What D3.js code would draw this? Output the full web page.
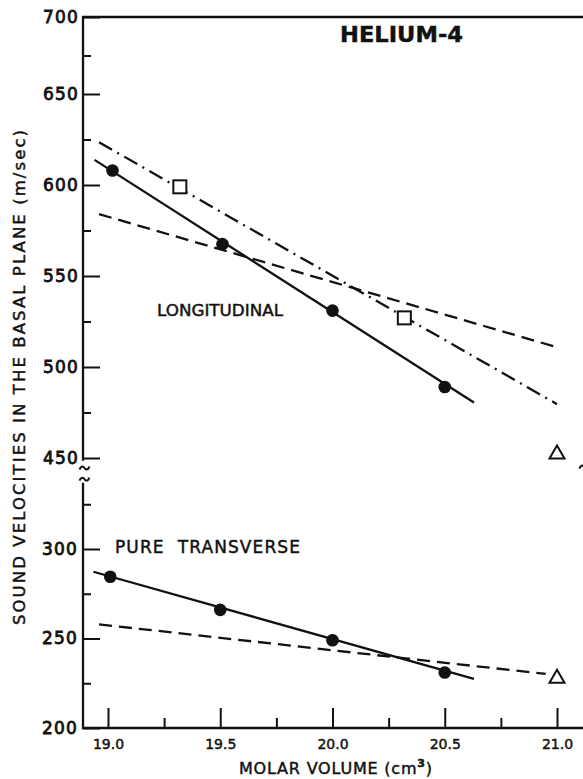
<!DOCTYPE html>
<html>
<head>
<meta charset="utf-8">
<script src="https://cdn.jsdelivr.net/npm/d3@7"></script>
<style>
  html, body { margin: 0; padding: 0; background: #fff; }
  svg { display: block; }
  text { font-family: "DejaVu Sans", sans-serif; fill: #111; stroke: #111; stroke-width: 0.45px; }
  text.ylab { stroke-width: 0.8px; }
</style>
</head>
<body>
<svg id="chart" width="583" height="779"></svg>
<script>
// Molar volume (cm^3) and sound velocity (m/sec) readings
const longVol = [19.02, 19.51, 20.0, 20.5];
const longVel = [608, 567.5, 531, 489];
const transVol = [19.01, 19.5, 20.0, 20.5];
const transVel = [284.5, 266, 249, 231];

// Longitudinal: least-squares line through the measurements
const longFitVol = [18.94, 20.63];
const longFitVel = [613.8, 480.5];
// Longitudinal: dash-dot theory curve and open-square points
const longDashDotVol = [18.96, 21.0];
const longDashDotVel = [623.5, 479.6];
const squareVol = [19.32, 20.32];
const squareVel = [599, 527];
// Longitudinal: dashed theory curve
const longDashVol = [18.96, 21.01];
const longDashVel = [584, 510.5];

// Pure transverse: fit line and dashed theory curve
const transFitVol = [18.935, 20.63];
const transFitVel = [287.3, 227.4];
const transDashVol = [18.96, 20.95];
const transDashVel = [257.9, 230.2];

// Open triangles at 21.0 cm^3
const triVol = [21.0, 21.0];
const triVel = [453, 228.7];

// Axis ticks
const xMajor = [19.0, 19.5, 20.0, 20.5, 21.0];
const xMinor = [19.25, 19.75, 20.25, 20.75];
const xLabels = ["19.0", "19.5", "20.0", "20.5", "21.0"];
const yTopMajor = [450, 500, 550, 600, 650, 700];
const yTopMinor = [475, 525, 575, 625, 675];
const yBotMajor = [200, 250, 300];
const yBotMinor = [225, 275, 325];

const svg = d3.select("#chart");

const x = d3.scaleLinear().domain([19, 21]).range([108, 557]);
// upper panel (450–700) and lower panel (200–300) of the broken axis
const yTop = d3.scaleLinear().domain([450, 650, 700]).range([458, 94, 17]);
const yBot = d3.scaleLinear().domain([200, 300]).range([728, 549]);

const axisX0 = 83;
const xRight = x(21.14);
const yFrameTop = yTop(700);
const yFrameBot = yBot(200);

const ink = "#111";
const lw = 2.3;

// Frame lines: left axis (with break), top and bottom
const frame = svg.append("g").attr("stroke", ink).attr("stroke-width", lw).attr("fill", "none");
frame.append("line").attr("x1", axisX0).attr("x2", axisX0).attr("y1", yFrameTop - 1).attr("y2", yTop(448.5));
frame.append("line").attr("x1", axisX0).attr("x2", axisX0).attr("y1", yBot(337)).attr("y2", yFrameBot + 1);
frame.append("line").attr("x1", axisX0 - 1).attr("x2", 583).attr("y1", yFrameTop).attr("y2", yFrameTop);
frame.append("line").attr("x1", axisX0 - 1).attr("x2", 583).attr("y1", yFrameBot).attr("y2", yFrameBot);
frame.append("line").attr("x1", xRight).attr("x2", xRight).attr("y1", yFrameTop).attr("y2", yFrameBot);

// Break marks on the value axes
function tilde(cx, cy) {
  return `M${cx - 5},${cy + 1.5} C${cx - 3},${cy - 3} ${cx - 1},${cy - 1.5} ${cx},${cy} ` +
         `C${cx + 1},${cy + 1.5} ${cx + 3},${cy + 3} ${cx + 5},${cy - 1.5}`;
}
const breaks = svg.append("g").attr("stroke", ink).attr("stroke-width", 2).attr("fill", "none");
breaks.append("path").attr("d", tilde(axisX0 + 1.5, yTop(444.5)));
breaks.append("path").attr("d", tilde(axisX0 + 1.5, yBot(339)));
breaks.append("rect").attr("x", xRight - 3).attr("y", yTop(446)).attr("width", 6).attr("height", 22)
  .attr("fill", "#fff").attr("stroke", "none");
breaks.append("path").attr("d", tilde(xRight - 4, yTop(445)));

// Value-axis ticks, drawn inward
function styleAxis(g) {
  g.select(".domain").remove();
  g.selectAll(".tick line").attr("stroke", ink).attr("stroke-width", 2);
}
const yLabelStyle = t => t.attr("class", "ylab").attr("font-size", 17).attr("letter-spacing", 1.2)
  .attr("fill", ink).attr("font-family", "DejaVu Sans");

svg.append("g").attr("transform", `translate(${axisX0},0)`)
  .call(d3.axisLeft(yTop).tickValues(yTopMajor).tickSize(-17).tickPadding(4).tickFormat(d3.format("d")))
  .call(styleAxis)
  .call(g => yLabelStyle(g.selectAll("text")));
svg.append("g").attr("transform", `translate(${axisX0},0)`)
  .call(d3.axisLeft(yTop).tickValues(yTopMinor).tickSize(-8).tickFormat(""))
  .call(styleAxis);
svg.append("g").attr("transform", `translate(${axisX0},0)`)
  .call(d3.axisLeft(yBot).tickValues(yBotMajor).tickSize(-17).tickPadding(5).tickFormat(d3.format("d")))
  .call(styleAxis)
  .call(g => yLabelStyle(g.selectAll("text")));
svg.append("g").attr("transform", `translate(${axisX0},0)`)
  .call(d3.axisLeft(yBot).tickValues(yBotMinor).tickSize(-8).tickFormat(""))
  .call(styleAxis);

// Molar-volume ticks, pointing up from the bottom edge
svg.append("g").attr("transform", `translate(0,${yFrameBot})`)
  .call(d3.axisBottom(x).tickValues(xMajor).tickSize(-20).tickPadding(8)
    .tickFormat((d, i) => xLabels[i]))
  .call(styleAxis)
  .call(g => g.selectAll("text").attr("font-size", 14).attr("fill", ink)
    .attr("font-family", "DejaVu Sans").attr("dy", "0.95em"));
svg.append("g").attr("transform", `translate(0,${yFrameBot})`)
  .call(d3.axisBottom(x).tickValues(xMinor).tickSize(-10).tickFormat(""))
  .call(styleAxis);

// Curves
function segment(xs, ys, yScale) {
  return d3.line().x(d => x(d[0])).y(d => yScale(d[1]))(d3.zip(xs, ys));
}
const curves = svg.append("g").attr("fill", "none").attr("stroke", ink).attr("stroke-width", lw);
curves.append("path").attr("d", segment(longFitVol, longFitVel, yTop));
curves.append("path").attr("d", segment(longDashDotVol, longDashDotVel, yTop))
  .attr("stroke-dasharray", "15 6 2 6");
curves.append("path").attr("d", segment(longDashVol, longDashVel, yTop))
  .attr("stroke-dasharray", "13 7");
curves.append("path").attr("d", segment(transFitVol, transFitVel, yBot));
curves.append("path").attr("d", segment(transDashVol, transDashVel, yBot))
  .attr("stroke-dasharray", "13 7");

// Measured points
svg.append("g").selectAll("circle").data(d3.zip(longVol, longVel)).join("circle")
  .attr("cx", d => x(d[0])).attr("cy", d => yTop(d[1])).attr("r", 6.3).attr("fill", ink);
svg.append("g").selectAll("circle").data(d3.zip(transVol, transVel)).join("circle")
  .attr("cx", d => x(d[0])).attr("cy", d => yBot(d[1])).attr("r", 6.3).attr("fill", ink);

// Open squares
svg.append("g").selectAll("rect").data(d3.zip(squareVol, squareVel)).join("rect")
  .attr("x", d => x(d[0]) - 6.5).attr("y", d => yTop(d[1]) - 6.5)
  .attr("width", 13).attr("height", 13)
  .attr("fill", "#fff").attr("stroke", ink).attr("stroke-width", 2);

// Open triangles
const triScales = [yTop, yBot];
svg.append("g").selectAll("path").data(d3.zip(triVol, triVel)).join("path")
  .attr("transform", (d, i) => `translate(${x(d[0])},${triScales[i](d[1])})`)
  .attr("d", "M0,-7 L7.5,6 L-7.5,6 Z")
  .attr("fill", "#fff").attr("stroke", ink).attr("stroke-width", 2);

// Labels
svg.append("text").attr("x", 340).attr("y", 42).attr("font-size", 22).attr("font-weight", "bold")
  .attr("textLength", 123).attr("lengthAdjust", "spacingAndGlyphs").text("HELIUM-4");
svg.append("text").attr("x", 157).attr("y", 316).attr("font-size", 16)
  .attr("textLength", 126).attr("lengthAdjust", "spacingAndGlyphs").text("LONGITUDINAL");
svg.append("text").attr("x", 115).attr("y", 553).attr("font-size", 17)
  .attr("textLength", 185).attr("lengthAdjust", "spacing").attr("xml:space", "preserve")
  .text("PURE  TRANSVERSE");

// Axis titles
const xt = svg.append("text").attr("x", 239).attr("y", 774).attr("font-size", 16)
  .attr("letter-spacing", 0.8);
xt.append("tspan").text("MOLAR VOLUME (cm");
xt.append("tspan").attr("font-size", 11).attr("font-weight", "bold").attr("dy", -7).text("3");
xt.append("tspan").attr("dy", 7).text(")");

svg.append("text").attr("transform", "translate(25,625) rotate(-90)")
  .attr("font-size", 16.5).attr("textLength", 495).attr("lengthAdjust", "spacing")
  .text("SOUND VELOCITIES IN THE BASAL PLANE  (m/sec)");
</script>
</body>
</html>
